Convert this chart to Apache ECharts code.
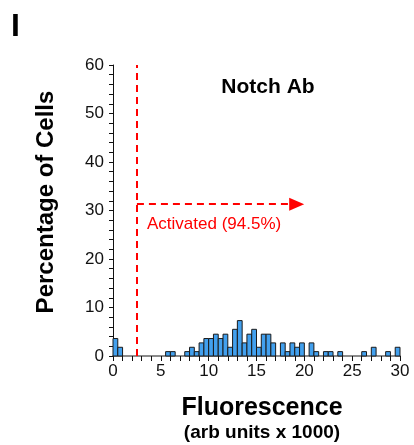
<!DOCTYPE html>
<html>
<head>
<meta charset="utf-8">
<script src="https://cdn.jsdelivr.net/npm/echarts@6/dist/echarts.min.js"></script>
<style>
  html, body { margin: 0; padding: 0; background: #fff; }
  #chart { width: 414px; height: 445px; }
</style>
</head>
<body>
<div id="chart"></div>
<script>
// histogram bins (left edge, arb units x 1000) and percentage of cells
const binWidth = 0.5
const binStart = [0, 0.5, 5.5, 6, 7.5, 8, 8.5, 9, 9.5, 10, 10.5, 11, 11.5, 12, 12.5, 13, 13.5, 14, 14.5, 15,
  15.5, 16, 16.5, 17.5, 18, 18.5, 19, 19.5, 20.5, 21, 22, 22.5, 23.5, 26, 27, 28.5, 29.5]
const percent = [3.6, 1.8, 0.9, 0.9, 0.9, 1.8, 0.9, 2.7, 3.6, 3.6, 4.5, 3.6, 4.5, 1.8, 5.5, 7.3, 2.7, 4.5, 5.5, 1.8,
  4.5, 4.5, 2.7, 2.7, 0.9, 2.7, 1.8, 2.7, 2.7, 0.9, 0.9, 0.9, 0.9, 0.9, 1.8, 0.9, 1.8]
const xTicks = [0, 5, 10, 15, 20, 25, 30]
const yTicks = [0, 10, 20, 30, 40, 50, 60]
const gateX = 2.5
const arrowY = 31.3
const arrowEndX = 19.2

const font = 'Liberation Sans, Arial, sans-serif'
let myChart = echarts.init(document.getElementById('chart'))

myChart.setOption({
  animation: false,
  grid: { left: 113, right: 14, top: 65, bottom: 89 },
  xAxis: {
    type: 'value',
    min: xTicks[0],
    max: xTicks[xTicks.length - 1],
    interval: 5,
    axisLine: { lineStyle: { color: '#666', width: 1.5 } },
    axisTick: { show: true, length: 5, lineStyle: { color: '#111' } },
    minorTick: { show: true, splitNumber: 5, length: 5, lineStyle: { color: '#111' } },
    splitLine: { show: false },
    axisLabel: { color: '#111', fontSize: 17, fontFamily: font, margin: 7 }
  },
  yAxis: {
    type: 'value',
    min: yTicks[0],
    max: yTicks[yTicks.length - 1],
    interval: 10,
    axisLine: { show: true, lineStyle: { color: '#111', width: 1 } },
    axisTick: { show: true, length: 4, lineStyle: { color: '#111' } },
    minorTick: { show: true, splitNumber: 5, length: 4, lineStyle: { color: '#111' } },
    splitLine: { show: false },
    axisLabel: { color: '#111', fontSize: 17, fontFamily: font, margin: 9 }
  },
  graphic: [
    { type: 'text', left: 11, top: 11, style: { text: 'I', font: 'bold 32px ' + font, fill: '#000' } },
    { type: 'text', x: 268, y: 87, style: { text: 'Notch Ab', font: 'bold 21px ' + font, fill: '#000', align: 'center', verticalAlign: 'middle' } },
    { type: 'text', x: 147, y: 224, style: { text: 'Activated (94.5%)', font: '17px ' + font, fill: '#ff0000', verticalAlign: 'middle' } },
    { type: 'text', x: 46, y: 202, rotation: Math.PI / 2, style: { text: 'Percentage of Cells', font: 'bold 24px ' + font, fill: '#000', align: 'center', verticalAlign: 'middle' } },
    { type: 'text', x: 262, y: 408, style: { text: 'Fluorescence', font: 'bold 25px ' + font, fill: '#000', align: 'center', verticalAlign: 'middle' } },
    { type: 'text', x: 262, y: 433, style: { text: '(arb units x 1000)', font: 'bold 19px ' + font, fill: '#000', align: 'center', verticalAlign: 'middle' } }
  ],
  series: [
    {
      type: 'custom',
      data: binStart.map((x, i) => [x, percent[i]]),
      renderItem: function (params, api) {
        let x0 = api.value(0)
        let h = api.value(1)
        let p0 = api.coord([x0, 0])
        let p1 = api.coord([x0 + binWidth, h])
        return {
          type: 'rect',
          shape: { x: p0[0], y: p1[1], width: p1[0] - p0[0], height: p0[1] - p1[1] },
          style: { fill: '#42a0ee', stroke: '#1a1a1a', lineWidth: 1 }
        }
      },
      z: 3
    },
    {
      type: 'line',
      data: [],
      silent: true,
      markLine: {
        silent: true,
        animation: false,
        label: { show: false },
        lineStyle: { color: '#ff0000', width: 2, type: [7, 5] },
        data: [
          [
            { coord: [gateX, 0], symbol: 'none' },
            { coord: [gateX, 60], symbol: 'none' }
          ],
          [
            { coord: [gateX, arrowY], symbol: 'none' },
            { coord: [arrowEndX, arrowY], symbol: 'triangle', symbolSize: [13, 15], symbolRotate: -90 }
          ]
        ]
      }
    }
  ]
})
</script>
</body>
</html>
